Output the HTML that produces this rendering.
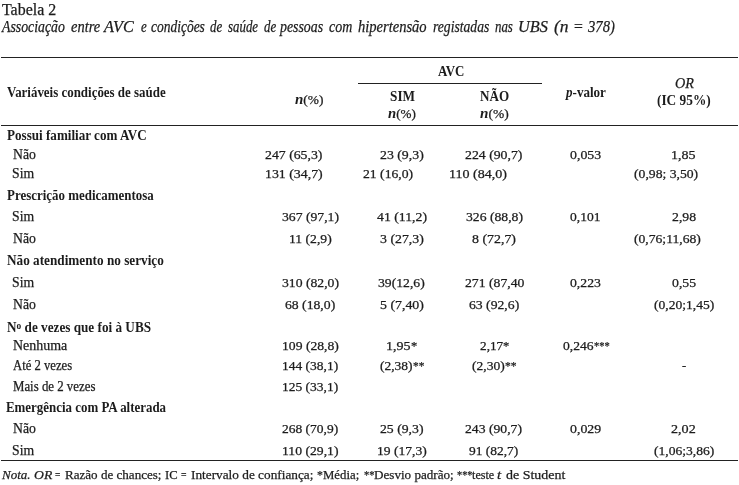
<!DOCTYPE html><html><head><meta charset="utf-8"><title>Tabela 2</title><style>
html,body{margin:0;padding:0;background:#fff}
body{width:739px;height:485px;position:relative;overflow:hidden;font-family:"Liberation Serif",serif;color:#1c1c1c}
.t{position:absolute;white-space:nowrap;line-height:20px;height:20px;transform-origin:0 50%;-webkit-text-stroke:0.25px #1c1c1c}
.b,.t b{font-weight:bold;-webkit-text-stroke:0}.i{font-style:italic}#w{position:absolute;left:0;top:0;width:739px;height:485px;filter:grayscale(1)}
.l{position:absolute;height:1px;background:#222}
</style></head><body><div id="w">
<span class="t r" style="left:1.92px;top:0.00px;font-size:16px;transform:scaleX(0.9959)">Tabela 2</span>
<span class="t i" style="left:2.33px;top:17.00px;font-size:16.5px;transform:scaleX(0.8357)">Associação</span>
<span class="t i" style="left:71.10px;top:17.00px;font-size:16.5px;transform:scaleX(0.8758)">entre</span>
<span class="t i" style="left:104.24px;top:17.00px;font-size:16.5px;transform:scaleX(0.9832)">AVC</span>
<span class="t i" style="left:141.29px;top:17.00px;font-size:16.5px;transform:scaleX(0.7800)">e</span>
<span class="t i" style="left:151.02px;top:17.00px;font-size:16.5px;transform:scaleX(0.8164)">condições</span>
<span class="t i" style="left:210.27px;top:17.00px;font-size:16.5px;transform:scaleX(0.7800)">de</span>
<span class="t i" style="left:228.11px;top:17.00px;font-size:16.5px;transform:scaleX(0.7800)">saúde</span>
<span class="t i" style="left:264.42px;top:17.00px;font-size:16.5px;transform:scaleX(0.7800)">de</span>
<span class="t i" style="left:280.25px;top:17.00px;font-size:16.5px;transform:scaleX(0.8401)">pessoas</span>
<span class="t i" style="left:329.21px;top:17.00px;font-size:16.5px;transform:scaleX(0.8460)">com</span>
<span class="t i" style="left:357.89px;top:17.00px;font-size:16.5px;transform:scaleX(0.8808)">hipertensão</span>
<span class="t i" style="left:433.06px;top:17.00px;font-size:16.5px;transform:scaleX(0.8261)">registadas</span>
<span class="t i" style="left:494.63px;top:17.00px;font-size:16.5px;transform:scaleX(0.7800)">nas</span>
<span class="t i" style="left:518.16px;top:17.00px;font-size:16.5px;transform:scaleX(0.9867)">UBS</span>
<span class="t i" style="left:554.05px;top:17.00px;font-size:16.5px;transform:scaleX(1.0600)">(n</span>
<span class="t i" style="left:572.60px;top:17.00px;font-size:16.5px;transform:scaleX(0.9500)">=</span>
<span class="t i" style="left:587.79px;top:17.00px;font-size:16.5px;transform:scaleX(0.8879)">378)</span>
<span class="t b" style="left:6.64px;top:82.00px;font-size:14.5px;transform:scaleX(0.8916)">Variáveis condições de saúde</span>
<span class="t r" style="left:295.42px;top:90.00px;font-size:14px;transform:scaleX(1.0717)"><b><i>n</i></b><span style="font-size:12.5px">(%)</span></span>
<span class="t b" style="left:438.43px;top:61.00px;font-size:14.5px;transform:scaleX(0.8917)">AVC</span>
<span class="t b" style="left:389.58px;top:86.00px;font-size:14.5px;transform:scaleX(0.9155)">SIM</span>
<span class="t r" style="left:388.43px;top:104.00px;font-size:14px;transform:scaleX(1.0522)"><b><i>n</i></b><span style="font-size:12.5px">(%)</span></span>
<span class="t b" style="left:479.51px;top:86.00px;font-size:14.5px;transform:scaleX(0.9029)">NÃO</span>
<span class="t r" style="left:479.92px;top:104.00px;font-size:14px;transform:scaleX(1.0814)"><b><i>n</i></b><span style="font-size:12.5px">(%)</span></span>
<span class="t b" style="left:566.43px;top:82.00px;font-size:14.5px;transform:scaleX(0.9011)"><i>p</i>-valor</span>
<span class="t i" style="left:674.74px;top:74.00px;font-size:14px;transform:scaleX(1.0144)">OR</span>
<span class="t b" style="left:656.84px;top:90.00px;font-size:14.5px;transform:scaleX(0.9191)">(IC 95%)</span>
<span class="t b" style="left:6.51px;top:126.00px;font-size:14px;transform:scaleX(0.9360)">Possui familiar com AVC</span>
<span class="t r" style="left:12.57px;top:145.00px;font-size:14px;transform:scaleX(0.9822)">Não</span>
<span class="t r" style="left:265.39px;top:145.00px;font-size:12.5px;transform:scaleX(1.1033)">247 (65,3)</span>
<span class="t r" style="left:380.14px;top:145.00px;font-size:12.5px;transform:scaleX(1.1054)">23 (9,3)</span>
<span class="t r" style="left:465.39px;top:145.00px;font-size:12.5px;transform:scaleX(1.1033)">224 (90,7)</span>
<span class="t r" style="left:570.39px;top:145.00px;font-size:12.5px;transform:scaleX(1.1075)">0,053</span>
<span class="t r" style="left:671.16px;top:145.00px;font-size:12.5px;transform:scaleX(1.1234)">1,85</span>
<span class="t r" style="left:12.02px;top:164.00px;font-size:14px;transform:scaleX(0.9809)">Sim</span>
<span class="t r" style="left:265.18px;top:164.00px;font-size:12.5px;transform:scaleX(1.1074)">131 (34,7)</span>
<span class="t r" style="left:362.64px;top:164.00px;font-size:12.5px;transform:scaleX(1.0942)">21 (16,0)</span>
<span class="t r" style="left:449.41px;top:164.00px;font-size:12.5px;transform:scaleX(1.1244)">110 (84,0)</span>
<span class="t r" style="left:634.10px;top:164.00px;font-size:12.5px;transform:scaleX(1.0931)">(0,98; 3,50)</span>
<span class="t b" style="left:6.52px;top:186.00px;font-size:14px;transform:scaleX(0.9239)">Prescrição medicamentosa</span>
<span class="t r" style="left:12.02px;top:207.00px;font-size:14px;transform:scaleX(0.9809)">Sim</span>
<span class="t r" style="left:281.57px;top:207.00px;font-size:12.5px;transform:scaleX(1.0949)">367 (97,1)</span>
<span class="t r" style="left:376.94px;top:207.00px;font-size:12.5px;transform:scaleX(1.1021)">41 (11,2)</span>
<span class="t r" style="left:465.82px;top:207.00px;font-size:12.5px;transform:scaleX(1.0949)">326 (88,8)</span>
<span class="t r" style="left:570.40px;top:207.00px;font-size:12.5px;transform:scaleX(1.0812)">0,101</span>
<span class="t r" style="left:671.64px;top:207.00px;font-size:12.5px;transform:scaleX(1.1009)">2,98</span>
<span class="t r" style="left:12.57px;top:229.00px;font-size:14px;transform:scaleX(0.9822)">Não</span>
<span class="t r" style="left:288.70px;top:229.00px;font-size:12.5px;transform:scaleX(1.0914)">11 (2,9)</span>
<span class="t r" style="left:380.07px;top:229.00px;font-size:12.5px;transform:scaleX(1.1072)">3 (27,3)</span>
<span class="t r" style="left:472.16px;top:229.00px;font-size:12.5px;transform:scaleX(1.1113)">8 (72,7)</span>
<span class="t r" style="left:634.10px;top:229.00px;font-size:12.5px;transform:scaleX(1.0890)">(0,76;11,68)</span>
<span class="t b" style="left:6.69px;top:251.00px;font-size:14px;transform:scaleX(0.9446)">Não atendimento no serviço</span>
<span class="t r" style="left:12.02px;top:273.00px;font-size:14px;transform:scaleX(0.9809)">Sim</span>
<span class="t r" style="left:281.57px;top:273.00px;font-size:12.5px;transform:scaleX(1.0949)">310 (82,0)</span>
<span class="t r" style="left:378.33px;top:273.00px;font-size:12.5px;transform:scaleX(1.0934)">39(12,6)</span>
<span class="t r" style="left:464.64px;top:273.00px;font-size:12.5px;transform:scaleX(1.0970)">271 (87,40</span>
<span class="t r" style="left:570.40px;top:273.00px;font-size:12.5px;transform:scaleX(1.0984)">0,223</span>
<span class="t r" style="left:671.65px;top:273.00px;font-size:12.5px;transform:scaleX(1.1009)">0,55</span>
<span class="t r" style="left:12.57px;top:295.00px;font-size:14px;transform:scaleX(0.9822)">Não</span>
<span class="t r" style="left:284.59px;top:295.00px;font-size:12.5px;transform:scaleX(1.0954)">68 (18,0)</span>
<span class="t r" style="left:379.98px;top:295.00px;font-size:12.5px;transform:scaleX(1.1095)">5 (7,40)</span>
<span class="t r" style="left:468.84px;top:295.00px;font-size:12.5px;transform:scaleX(1.0954)">63 (92,6)</span>
<span class="t r" style="left:654.10px;top:295.00px;font-size:12.5px;transform:scaleX(1.0845)">(0,20;1,45)</span>
<span class="t b" style="left:6.69px;top:316.00px;font-size:14px;transform:scaleX(0.9428)">N<span style="font-size:10px;vertical-align:2.5px">o</span> de vezes que foi à UBS</span>
<span class="t r" style="left:12.56px;top:336.00px;font-size:14px;transform:scaleX(0.9967)">Nenhuma</span>
<span class="t r" style="left:281.69px;top:336.00px;font-size:12.5px;transform:scaleX(1.0926)">109 (28,8)</span>
<span class="t r" style="left:386.46px;top:336.00px;font-size:12.5px;transform:scaleX(1.1234)">1,95</span>
<span class="t r" style="left:411.06px;top:336.00px;font-size:12.5px;transform:scaleX(1.0000)">*</span>
<span class="t r" style="left:479.65px;top:336.00px;font-size:12.5px;transform:scaleX(1.0609)">2,17</span>
<span class="t r" style="left:503.06px;top:336.00px;font-size:12.5px;transform:scaleX(1.0000)">*</span>
<span class="t r" style="left:562.95px;top:336.00px;font-size:12.5px;transform:scaleX(1.0853)">0,246</span>
<span class="t r" style="left:593.52px;top:336.00px;font-size:12.5px;transform:scaleX(0.8377)">***</span>
<span class="t r" style="left:12.55px;top:356.00px;font-size:14px;transform:scaleX(0.9061)">Até 2 vezes</span>
<span class="t r" style="left:281.71px;top:356.00px;font-size:12.5px;transform:scaleX(1.0778)">144 (38,1)</span>
<span class="t r" style="left:380.21px;top:356.00px;font-size:12.5px;transform:scaleX(1.0783)">(2,38)</span>
<span class="t r" style="left:412.78px;top:356.00px;font-size:12.5px;transform:scaleX(0.9071)">**</span>
<span class="t r" style="left:472.11px;top:356.00px;font-size:12.5px;transform:scaleX(1.0817)">(2,30)</span>
<span class="t r" style="left:504.77px;top:356.00px;font-size:12.5px;transform:scaleX(0.9247)">**</span>
<span class="t r" style="left:682.00px;top:356.00px;font-size:12.5px;transform:scaleX(1.0000)">-</span>
<span class="t r" style="left:12.60px;top:377.00px;font-size:14px;transform:scaleX(0.9175)">Mais de 2 vezes</span>
<span class="t r" style="left:281.71px;top:377.00px;font-size:12.5px;transform:scaleX(1.0778)">125 (33,1)</span>
<span class="t b" style="left:6.02px;top:398.00px;font-size:14px;transform:scaleX(0.9224)">Emergência com PA alterada</span>
<span class="t r" style="left:12.57px;top:419.00px;font-size:14px;transform:scaleX(0.9822)">Não</span>
<span class="t r" style="left:281.65px;top:419.00px;font-size:12.5px;transform:scaleX(1.0790)">268 (70,9)</span>
<span class="t r" style="left:380.14px;top:419.00px;font-size:12.5px;transform:scaleX(1.0990)">25 (9,3)</span>
<span class="t r" style="left:465.39px;top:419.00px;font-size:12.5px;transform:scaleX(1.0936)">243 (90,7)</span>
<span class="t r" style="left:570.39px;top:419.00px;font-size:12.5px;transform:scaleX(1.1085)">0,029</span>
<span class="t r" style="left:671.33px;top:419.00px;font-size:12.5px;transform:scaleX(1.1296)">2,02</span>
<span class="t r" style="left:12.02px;top:441.00px;font-size:14px;transform:scaleX(0.9809)">Sim</span>
<span class="t r" style="left:281.69px;top:441.00px;font-size:12.5px;transform:scaleX(1.0943)">110 (29,1)</span>
<span class="t r" style="left:377.00px;top:441.00px;font-size:12.5px;transform:scaleX(1.0863)">19 (17,3)</span>
<span class="t r" style="left:469.21px;top:441.00px;font-size:12.5px;transform:scaleX(1.0763)">91 (82,7)</span>
<span class="t r" style="left:654.00px;top:441.00px;font-size:12.5px;transform:scaleX(1.0835)">(1,06;3,86)</span>
<span class="t i" style="left:1.81px;top:465.00px;font-size:13.5px;transform:scaleX(0.9618)">Nota.</span>
<span class="t i" style="left:34.10px;top:465.00px;font-size:13.5px;transform:scaleX(1.0138)">OR</span>
<span class="t r" style="left:55.15px;top:465.00px;font-size:13.5px;transform:scaleX(0.7000)">=</span>
<span class="t r" style="left:64.53px;top:465.00px;font-size:13.5px;transform:scaleX(0.9680)">Razão de chances;</span>
<span class="t r" style="left:164.52px;top:465.00px;font-size:13.5px;transform:scaleX(0.9326)">IC</span>
<span class="t r" style="left:180.66px;top:465.00px;font-size:13.5px;transform:scaleX(0.7240)">=</span>
<span class="t r" style="left:190.99px;top:465.00px;font-size:13.5px;transform:scaleX(0.9837)">Intervalo de confiança;</span>
<span class="t r" style="left:317.45px;top:465.00px;font-size:13.5px;transform:scaleX(0.8749)">*</span>
<span class="t r" style="left:323.17px;top:465.00px;font-size:13.5px;transform:scaleX(0.9467)">Média;</span>
<span class="t r" style="left:363.61px;top:465.00px;font-size:13.5px;transform:scaleX(0.7754)">**</span>
<span class="t r" style="left:374.13px;top:465.00px;font-size:13.5px;transform:scaleX(0.9712)">Desvio padrão;</span>
<span class="t r" style="left:457.22px;top:465.00px;font-size:13.5px;transform:scaleX(0.7617)">***</span>
<span class="t r" style="left:472.16px;top:465.00px;font-size:13.5px;transform:scaleX(0.9000)">teste</span>
<span class="t i" style="left:497.18px;top:465.00px;font-size:13.5px;transform:scaleX(1.1000)">t</span>
<span class="t r" style="left:506.04px;top:465.00px;font-size:13.5px;transform:scaleX(1.0351)">de Student</span>
<div class="l" style="left:1.00px;top:57px;width:737.00px"></div>
<div class="l" style="left:358.20px;top:83px;width:184.30px"></div>
<div class="l" style="left:1.00px;top:125px;width:737.00px"></div>
<div class="l" style="left:1.00px;top:460px;width:737.00px"></div>
</div></body></html>
